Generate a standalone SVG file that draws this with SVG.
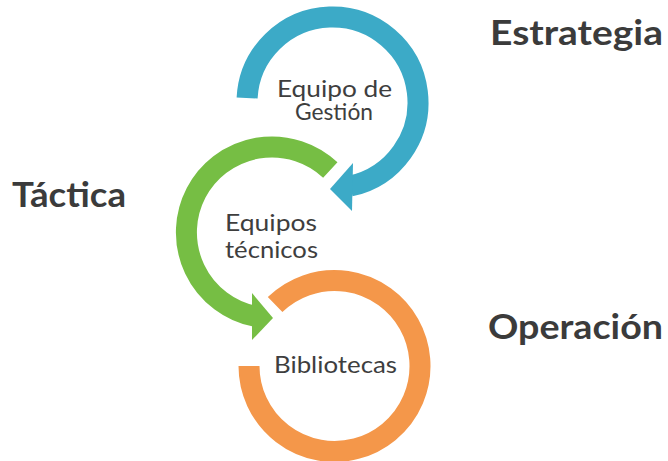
<svg xmlns="http://www.w3.org/2000/svg" width="668" height="461" viewBox="0 0 668 461">
  <style>
    .ring { fill: none; stroke-width: 21; stroke-linecap: butt; }
    .blue { stroke: #3caac7; }
    .green { stroke: #76be44; }
    .orange { stroke: #f4974a; }
    .head-blue { fill: #3caac7; }
    .head-green { fill: #76be44; }
    .lbl { font-family: Lato, "Liberation Sans", sans-serif; font-size: 23px; fill: #3e3e3e; text-anchor: middle; }
    .lvl { font-family: Lato, "Liberation Sans", sans-serif; font-size: 35px; font-weight: bold; fill: #3b3b3b; }
  </style>
  <rect width="668" height="461" fill="#ffffff"/>

  <g id="connectors">
    <path id="ring-blue" class="ring blue" d="M247.1,98.0 A85.5,85.5 0 1 1 350.3,186.1"/>
    <polygon class="head-blue" points="353,163 330,189 352,211"/>
    <path id="ring-green" class="ring green" d="M330.3,170.0 A85.5,85.5 0 1 0 254.2,316.1"/>
    <polygon class="head-green" points="252,293 273,318 252,340"/>
    <path id="ring-orange" class="ring orange" d="M275.1,304.5 A85.5,85.5 0 1 1 249,366"/>
  </g>

  <g id="node-gestion">
    <text class="lbl" x="334.5" y="97" textLength="115" lengthAdjust="spacingAndGlyphs">Equipo de</text>
    <text class="lbl" x="334" y="120" textLength="78" lengthAdjust="spacingAndGlyphs">Gestión</text>
  </g>
  <g id="node-tecnicos">
    <text class="lbl" x="271" y="231" textLength="92" lengthAdjust="spacingAndGlyphs">Equipos</text>
    <text class="lbl" x="271.5" y="258" textLength="93" lengthAdjust="spacingAndGlyphs">técnicos</text>
  </g>
  <g id="node-bibliotecas">
    <text class="lbl" x="335.5" y="373" textLength="123" lengthAdjust="spacingAndGlyphs">Bibliotecas</text>
  </g>

  <g id="levels">
    <text class="lvl" x="490" y="45" textLength="173" lengthAdjust="spacingAndGlyphs">Estrategia</text>
    <text class="lvl" x="12" y="207" textLength="114" lengthAdjust="spacingAndGlyphs">Táctica</text>
    <text class="lvl" x="488" y="339" textLength="175" lengthAdjust="spacingAndGlyphs">Operación</text>
  </g>
</svg>
